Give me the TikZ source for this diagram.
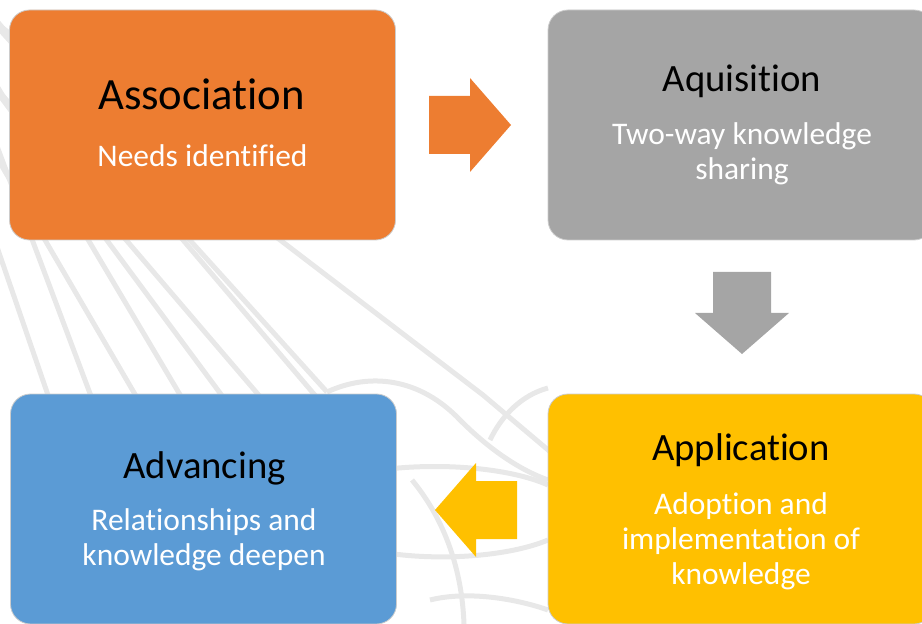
\documentclass[tikz,border=0pt]{standalone}
\usepackage{fontspec}
\setmainfont{Carlito}[Ligatures=NoCommon]

\definecolor{assocorange}{HTML}{ED7D31}
\definecolor{aquigray}{HTML}{A5A5A5}
\definecolor{applyellow}{HTML}{FFC000}
\definecolor{advblue}{HTML}{5B9BD5}
\definecolor{markgray}{HTML}{E8E8E8}

\tikzset{
  stagebox/.style={rounded corners=15pt, draw=white!80!black, line width=0.6pt,
    minimum width=386*0.75pt, minimum height=230*0.75pt, inner sep=0pt},
  stagetitle/.style={anchor=base, text=black, inner sep=0pt, font=\fontsize{29}{33}\selectfont},
  stagetext/.style={anchor=base, text=white, inner sep=0pt, align=center,
    font=\fontsize{23.6}{26.25}\selectfont},
  watermark/.style={draw=markgray, line width=3.75pt},
  flowarrow/.pic={\fill (-41,-29) -- (0,-29) -- (0,-47) -- (41,0) -- (0,47) -- (0,29) -- (-41,29) -- cycle;}
}

\begin{document}
\begin{tikzpicture}[x=0.75pt, y=-0.75pt]
  \useasboundingbox (0,0) rectangle (922,624);
  \clip (0,0) rectangle (922,624);
  % faint logo in the background
  \draw[watermark] (-88,0) -- (60,430);
  \draw[watermark] (-58,0) -- (100,420);
  \draw[watermark] (-95,0) -- (150,420);
  \draw[watermark] (-54,0) -- (195,420);
  \draw[watermark] (-71,0) -- (240,420);
  \draw[watermark] (-79,0) -- (280,420);
  \draw[watermark] (-21,0) -- (336,420);
  \draw[watermark] (-27,0) -- (327,392);
  \draw[watermark] (-34,0) -- (483,395) -- (560,460);
  \draw[watermark] (327,392) .. controls (370,372) and (420,378) .. (460,420) .. controls (490,450) and (520,470) .. (548,480);
  \draw[watermark] (380,470) .. controls (440,462) and (510,468) .. (548,485);
  \draw[watermark] (380,552) .. controls (440,562) and (510,556) .. (548,540);
  \draw[watermark] (412,480) .. controls (445,520) and (462,570) .. (464,624);
  \draw[watermark] (490,440) .. controls (502,415) and (522,395) .. (548,388);
  \draw[watermark] (430,600) .. controls (470,590) and (520,600) .. (548,610);
  % stages
  \node[stagebox, fill=assocorange] (assoc) at (202.5,125) {};
  \node[stagebox, fill=aquigray] (aqui) at (741,125) {};
  \node[stagebox, fill=advblue] (adv) at (203.5,509) {};
  \node[stagebox, fill=applyellow] (appl) at (741,509) {};
  % block arrows between the stages
  \pic[fill=assocorange] at (470,125) {flowarrow};
  \pic[fill=aquigray, rotate=-90] at (742,313) {flowarrow};
  \pic[fill=applyellow, rotate=180] at (476,510) {flowarrow};
  % texts (multi-line: base is the last line)
  \node[stagetitle, font=\fontsize{33.5}{37}\selectfont] (assoc title) at (201.5,110) {Association};
  \node[stagetext] (assoc text) at (202.5,167) {Needs identified};
  \node[stagetitle] (aqui title) at (742,92) {Aquisition};
  \node[stagetext] (aqui text) at (742,180) {Two-way knowledge\\sharing};
  \node[stagetitle] (adv title) at (204.5,478) {Advancing};
  \node[stagetext] (adv text) at (204,565) {Relationships and\\knowledge deepen};
  \node[stagetitle] (appl title) at (741,460) {Application};
  \node[stagetext] (appl text) at (741,584) {Adoption and\\implementation of\\knowledge};
\end{tikzpicture}
\end{document}
